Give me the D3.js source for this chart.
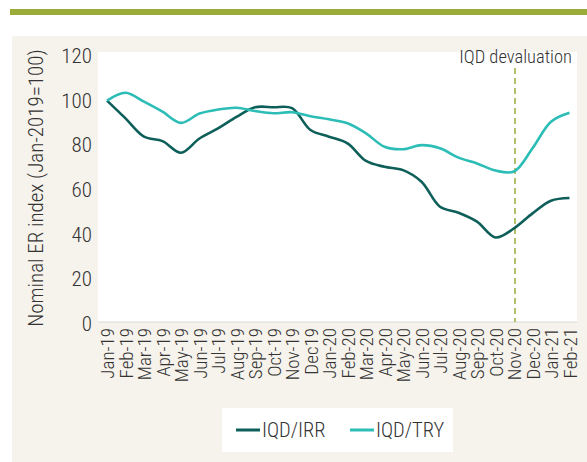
<!DOCTYPE html>
<html>
<head>
<meta charset="utf-8">
<script src="https://cdn.jsdelivr.net/npm/d3@7"></script>
<style>
  body { margin: 0; background: #fff; }
  svg text { font-family: "Roboto Condensed", "Liberation Sans Narrow", sans-serif; font-weight: 300; fill: #333; }
</style>
</head>
<body>
<svg id="chart" width="587" height="462"></svg>
<script>
const months = ['Jan-19','Feb-19','Mar-19','Apr-19','May-19','Jun-19','Jul-19','Aug-19','Sep-19','Oct-19','Nov-19','Dec19',
    'Jan-20','Feb-20','Mar-20','Apr-20','May-20','Jun-20','Jul-20','Aug-20','Sep-20','Oct-20','Nov-20','Dec-20',
    'Jan-21','Feb-21'];

const irr = [100, 92, 83.8, 81.8, 76.6, 83, 87.5, 92.7, 97, 97, 96.6, 86.8,
    83.8, 80.8, 72.9, 70.3, 68.8, 63.6, 52.4, 49.7, 45.7, 38.6, 42.7, 49.4, 55.1, 56.3];

const tryIdx = [100, 103.5, 99.5, 95, 90, 94.2, 96, 96.8, 95.3, 94.3, 94.8, 93,
    91.6, 89.8, 85.3, 79.3, 78.2, 80, 78.6, 74.4, 71.8, 68.6, 68.2, 78.6, 90.5, 94.5];

const yTicks = [0, 20, 40, 60, 80, 100, 120];
const devalMonth = 'Nov-20';

const svg = d3.select('#chart');

// frame: green rule, beige panel, white plot area
svg.append('rect').attr('x', 10).attr('y', 9).attr('width', 577).attr('height', 6).attr('fill', '#9aab3a');
svg.append('rect').attr('x', 12).attr('y', 36).attr('width', 575).attr('height', 426).attr('fill', '#f6f2ec');
svg.append('rect').attr('x', 98).attr('y', 52).attr('width', 479).attr('height', 270).attr('fill', '#fff');

const x = d3.scalePoint().domain(months).range([107, 569.5]);
const y = d3.scaleLinear().domain([0, 120]).range([323.5, 56]);

// y axis labels
const yAxis = svg.append('g')
    .attr('transform', 'translate(98,0)')
    .call(d3.axisLeft(y).tickValues(yTicks).tickSize(0).tickPadding(6));
yAxis.select('.domain').remove();
yAxis.selectAll('text').style('font-size', '21px').attr('fill', '#333');

// x axis
const xAxis = svg.append('g')
    .attr('transform', 'translate(0,322)')
    .call(d3.axisBottom(x).tickSize(0));
xAxis.select('.domain').attr('stroke', '#d9d9d9').attr('d', 'M98,0H577');
xAxis.selectAll('text')
    .style('font-size', '19px')
    .attr('fill', '#333')
    .attr('text-anchor', 'end')
    .attr('x', -6)
    .attr('y', 0)
    .attr('dy', '0.35em')
    .attr('transform', 'rotate(-90)');

svg.append('text')
    .attr('transform', 'translate(43,188) rotate(-90)')
    .attr('text-anchor', 'middle')
    .style('font-size', '21px')
    .text('Nominal ER index (Jan-2019=100)');

// devaluation marker
svg.append('line')
    .attr('x1', x(devalMonth) + 1).attr('x2', x(devalMonth) + 1)
    .attr('y1', 68).attr('y2', 322)
    .attr('stroke', '#9aab3a').attr('stroke-width', 1.5)
    .attr('stroke-dasharray', '6,4');
svg.append('text')
    .attr('x', 572).attr('y', 63)
    .attr('text-anchor', 'end')
    .style('font-size', '18.5px')
    .text('IQD devaluation');

const line = d3.line()
    .x((d, i) => x(months[i]))
    .y(d => y(d))
    .curve(d3.curveCatmullRom.alpha(0.5));

const series = [
    { name: 'IQD/IRR', values: irr, color: '#0e5f5a' },
    { name: 'IQD/TRY', values: tryIdx, color: '#2bbdb6' }
];

svg.selectAll('path.series')
    .data(series)
    .enter()
    .append('path')
    .attr('class', 'series')
    .attr('d', d => line(d.values))
    .attr('fill', 'none')
    .attr('stroke', d => d.color)
    .attr('stroke-width', 2.6);

// legend
svg.append('rect').attr('x', 222).attr('y', 408).attr('width', 231).attr('height', 44).attr('fill', '#fff');
const leg = svg.selectAll('g.leg')
    .data(series)
    .enter()
    .append('g')
    .attr('class', 'leg')
    .attr('transform', (d, i) => `translate(${236 + i * 114},430)`);
leg.append('line').attr('x1', 0).attr('x2', 24).attr('y1', 0).attr('y2', 0)
    .attr('stroke', d => d.color).attr('stroke-width', 3);
leg.append('text').attr('x', 26).attr('y', 7).style('font-size', '20.5px').text(d => d.name);
</script>
</body>
</html>
